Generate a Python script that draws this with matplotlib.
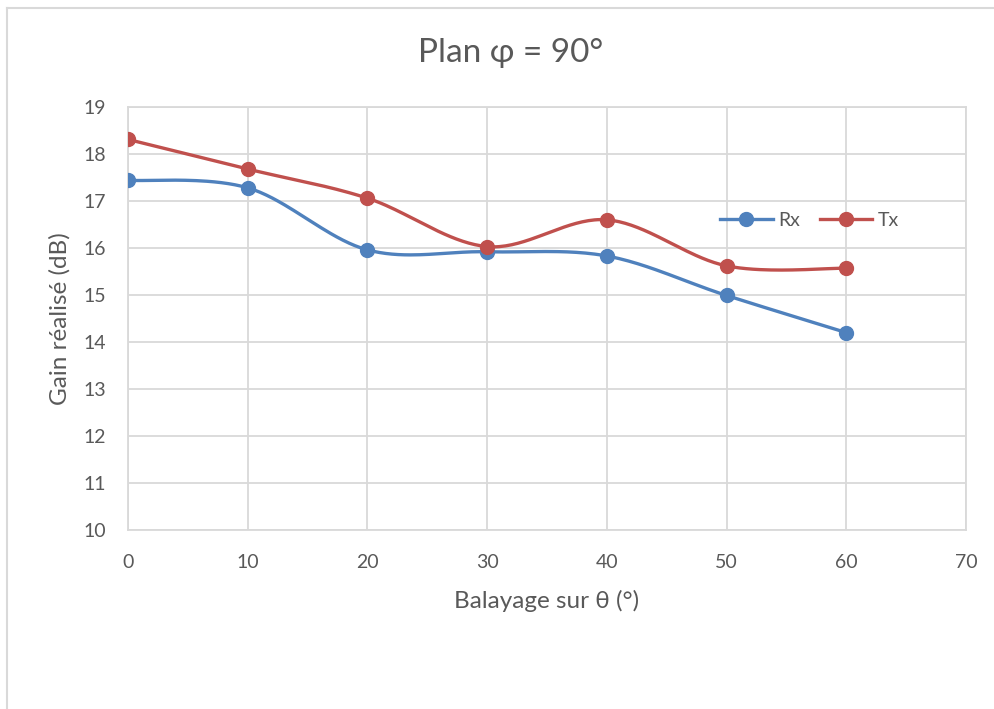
import numpy as np
import matplotlib.pyplot as plt
from matplotlib.lines import Line2D

# Données
theta = [0, 10, 20, 30, 40, 50, 60]
gain_rx = [17.44, 17.28, 15.96, 15.92, 15.83, 14.99, 14.20]
gain_tx = [18.31, 17.68, 17.06, 16.03, 16.60, 15.62, 15.57]

COL_RX = '#4f81bd'
COL_TX = '#c0504d'
GRIS = '#d9d9d9'
TEXTE = '#595959'

plt.rcParams['font.family'] = ['Lato', 'DejaVu Sans']


def lissage_excel(x, y, n=40):
    """Courbe lissée façon Excel (Bézier cubique, tension 1/6)."""
    p = np.column_stack([x, y]).astype(float)
    pts = []
    for i in range(len(p) - 1):
        p0 = p[i - 1] if i > 0 else p[i]
        p1, p2 = p[i], p[i + 1]
        p3 = p[i + 2] if i + 2 < len(p) else p[i + 1]
        c1 = p1 + (p2 - p0) / 6
        c2 = p2 - (p3 - p1) / 6
        t = np.linspace(0, 1, n)[:, None]
        seg = ((1 - t) ** 3) * p1 + 3 * ((1 - t) ** 2) * t * c1 \
            + 3 * (1 - t) * t ** 2 * c2 + t ** 3 * p2
        pts.append(seg if i == 0 else seg[1:])
    pts = np.vstack(pts)
    return pts[:, 0], pts[:, 1]


fig = plt.figure(figsize=(9.95, 7.09), dpi=100)
ax = fig.add_axes([128 / 995, 1 - 530 / 709, 838 / 995, 423 / 709])

for serie, col in [(gain_rx, COL_RX), (gain_tx, COL_TX)]:
    xs, ys = lissage_excel(theta, serie)
    ax.plot(xs, ys, color=col, linewidth=2.4, solid_capstyle='round', zorder=3)
    ax.plot(theta, serie, linestyle='none', marker='o', markersize=10,
            color=col, zorder=4)

ax.set_xlim(0, 70)
ax.set_ylim(10, 19)
ax.set_xticks(range(0, 71, 10))
ax.set_yticks(range(10, 20))
ax.grid(True, color=GRIS, linewidth=1.3)
ax.set_axisbelow(True)
for s in ax.spines.values():
    s.set_color(GRIS)
    s.set_linewidth(1.3)
ax.tick_params(length=0, labelsize=14, labelcolor=TEXTE)
ax.tick_params(axis='x', pad=17)
ax.tick_params(axis='y', pad=16)

ax.set_xlabel('Balayage sur θ (°)', fontsize=17.5, color=TEXTE, labelpad=14)
ax.set_ylabel('Gain réalisé (dB)', fontsize=17.5, color=TEXTE, labelpad=9)
fig.text(0.513, 1 - 53 / 709, 'Plan φ = 90°', fontsize=24, color=TEXTE,
         ha='center', va='center')

handles = [
    Line2D([], [], color=COL_RX, linewidth=2.4, marker='o', markersize=10),
    Line2D([], [], color=COL_TX, linewidth=2.4, marker='o', markersize=10),
]
leg = ax.legend(handles, ['Rx', 'Tx'], loc='center left',
                bbox_to_anchor=(0.695, 0.731), ncol=2, frameon=False,
                fontsize=14, handlelength=2.7, columnspacing=1.0,
                handletextpad=0.3, borderpad=0)
for t in leg.get_texts():
    t.set_color(TEXTE)

# cadre gris de la zone de graphique (haut et gauche)
fig.add_artist(Line2D([7.5 / 995, 7.5 / 995], [0, 1 - 7.5 / 709],
                      color=GRIS, linewidth=1.5, transform=fig.transFigure))
fig.add_artist(Line2D([7.5 / 995, 1], [1 - 7.5 / 709, 1 - 7.5 / 709],
                      color=GRIS, linewidth=1.5, transform=fig.transFigure))

fig.savefig('out.png', dpi=100)
